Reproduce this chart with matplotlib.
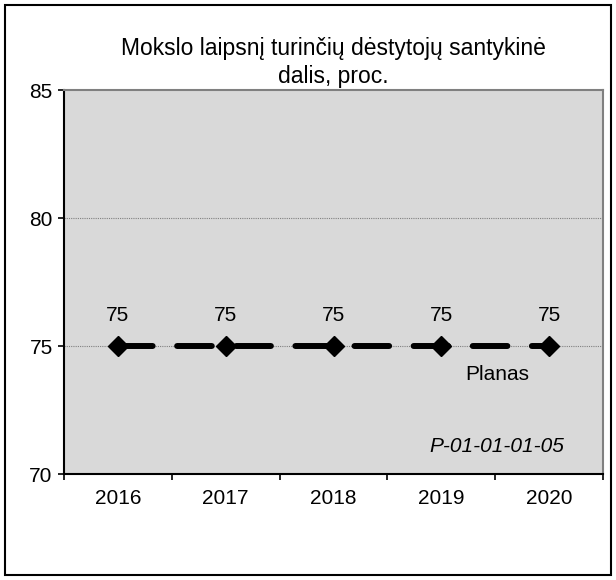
import matplotlib.pyplot as plt
from matplotlib.patches import Rectangle

plt.rcParams['font.family'] = ['Liberation Sans', 'DejaVu Sans']

# Duomenys
years = ['2016', '2017', '2018', '2019', '2020']
plan = [75, 75, 75, 75, 75]

fig = plt.figure(figsize=(6.16, 5.8), dpi=100)
ax = fig.add_axes([64 / 616, 1 - 474 / 580, 539 / 616, 384 / 580])
ax.set_facecolor('#d9d9d9')

x = list(range(len(years)))
ax.plot(x, plan, color='black', linewidth=4.3, linestyle=(0, (5.8, 4.1)),
        dash_capstyle='round', zorder=3)
ax.plot(x, plan, linestyle='none', marker='D', markersize=10,
        markerfacecolor='black', markeredgecolor='black', zorder=4)

for xi, v in zip(x, plan):
    ax.annotate(str(v), (xi, v), xytext=(0, 18), textcoords='offset points',
                ha='center', va='baseline', fontsize=15)

ax.text(3.517, 73.67, 'Planas', ha='center', va='baseline', fontsize=15)
ax.text(3.517, 70.86, 'P-01-01-01-05', ha='center', va='baseline', fontsize=15, style='italic')

ax.set_xlim(-0.5, 4.5)
ax.set_ylim(70, 85)
ax.set_yticks([70, 75, 80, 85])
ax.set_xticks([i - 0.5 for i in range(6)], minor=False)
ax.set_xticklabels([])
ax.set_xticks(x, minor=True)
ax.set_xticklabels(years, minor=True, fontsize=15)
ax.tick_params(axis='x', which='major', length=4.5, width=1.2, direction='out', color='black')
ax.tick_params(axis='x', which='minor', length=0, pad=11)
ax.tick_params(axis='y', length=4.5, width=1.2, direction='out', labelsize=15, pad=3.6)

for yv in [75, 80]:
    ax.axhline(yv, color='#808080', linewidth=0.8, linestyle=(0, (1, 1)), zorder=1)

for s in ax.spines.values():
    s.set_linewidth(1.5)
ax.spines['top'].set_color('#808080')
ax.spines['right'].set_color('#808080')
ax.spines['left'].set_color('black')
ax.spines['bottom'].set_color('black')

ax.set_title('Mokslo laipsnį turinčių dėstytojų santykinė\ndalis, proc.', fontsize=16.5,
             pad=5, linespacing=1.3)

fig.patches.append(Rectangle((5 / 616, 5 / 580), 606 / 616, 570 / 580, transform=fig.transFigure,
                             fill=False, edgecolor='black', linewidth=1.5))

fig.savefig('out.png', dpi=100)
